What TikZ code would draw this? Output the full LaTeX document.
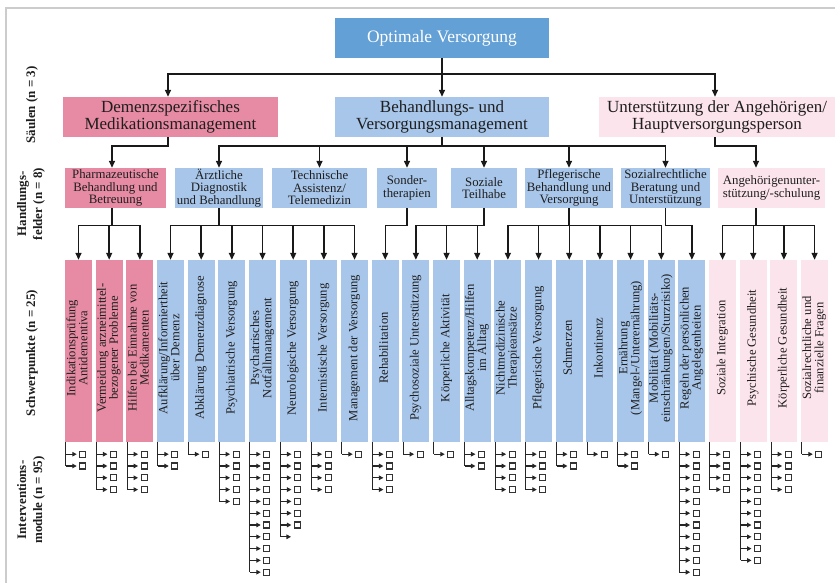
\documentclass[tikz,border=0pt]{standalone}
\usepackage{fontspec}
\setmainfont{Liberation Serif}
\usepackage{graphicx}
\usetikzlibrary{arrows.meta}
\definecolor{topblue}{RGB}{98,160,214}
\definecolor{lblue}{RGB}{168,198,234}
\definecolor{dpink}{RGB}{231,139,164}
\definecolor{lpink}{RGB}{252,228,236}
\definecolor{framegrey}{RGB}{204,204,204}
\definecolor{txt}{RGB}{30,30,30}
\newcommand{\rtxt}[1]{\rotatebox{90}{\hspace{6pt}\begin{tabular}{@{}c@{}}#1\end{tabular}}}
\begin{document}
\begin{tikzpicture}[x=1pt,y=-1pt,
  basebox/.style={inner sep=0pt, align=center, text=txt},
  sbox/.style={basebox, minimum width=#1, minimum height=40pt, font=\fontsize{17}{16.5}\selectfont},
  hbox/.style={basebox, minimum width=#1, minimum height=40pt, font=\fontsize{12.8}{12.5}\selectfont},
  pbox/.style={basebox, minimum width=27pt, minimum height=182pt, font=\fontsize{12.6}{11}\selectfont},
  conn/.style={line width=1.4pt, draw=black!90},
  arr/.style={conn, -{Triangle[width=6pt,length=7pt]}},
  modline/.style={line width=1.2pt, draw=black!85},
  modarr/.style={modline, -{Triangle[width=4.5pt,length=4.5pt]}, shorten >=2.5pt},
  modbox/.style={draw=black!80, line width=1.1pt, fill=white, minimum size=6pt, inner sep=0pt},
  lab/.style={rotate=90, align=center, font=\bfseries\fontsize{13}{16}\selectfont, text=txt},
]
\useasboundingbox (0,0) rectangle (835,583);
\draw[framegrey, line width=2pt] (6,583) -- (6,8) -- (835,8);

% top
\node[basebox, fill=topblue, minimum width=214pt, minimum height=40pt, text=white,
      font=\fontsize{17.5}{17}\selectfont] (top) at (442,38) {Optimale Versorgung};

% Saeulen
\node[sbox=215pt, fill=dpink] (s1) at (170.5,117) {Demenzspezifisches\\Medikationsmanagement};
\node[sbox=214pt, fill=lblue] (s2) at (442,117) {Behandlungs- und\\Versorgungsmanagement};
\node[sbox=236pt, fill=lpink] (s3) at (717,117) {Unterstützung der Angehörigen/\\Hauptversorgungsperson};

% Handlungsfelder
\node[hbox=101pt, fill=dpink] (h1) at (115.5,188) {Pharmazeutische\\Behandlung und\\Betreuung};
\node[hbox=88pt, fill=lblue] (h2) at (219,188) {Ärztliche\\Diagnostik\\und Behandlung};
\node[hbox=95pt, fill=lblue] (h3) at (319.5,188) {Technische\\Assistenz/\\Telemedizin};
\node[hbox=60pt, fill=lblue] (h4) at (407,188) {Sonder-\\therapien};
\node[hbox=66pt, fill=lblue] (h5) at (484,188) {Soziale\\Teilhabe};
\node[hbox=88pt, fill=lblue] (h6) at (569,188) {Pflegerische\\Behandlung und\\Versorgung};
\node[hbox=89pt, fill=lblue] (h7) at (665.5,188) {Sozialrechtliche\\Beratung und\\Unterstützung};
\node[hbox=107pt, fill=lpink] (h8) at (771.5,188) {Angehörigenunter-\\stützung/-schulung};

% Schwerpunkte
\node[pbox, fill=dpink] (p1) at (78.5,351) {\rtxt{Indikationsprüfung\\Antidementiva}};
\node[pbox, fill=dpink] (p2) at (109.17,351) {\rtxt{Vermeidung arzneimittel-\\bezogener Probleme}};
\node[pbox, fill=dpink] (p3) at (139.84,351) {\rtxt{Hilfen bei Einnahme von\\Medikamenten}};
\node[pbox, fill=lblue] (p4) at (170.51,351) {\rtxt{Aufklärung/Informiertheit\\über Demenz}};
\node[pbox, fill=lblue] (p5) at (201.18,351) {\rtxt{Abklärung Demenzdiagnose}};
\node[pbox, fill=lblue] (p6) at (231.85,351) {\rtxt{Psychiatrische Versorgung}};
\node[pbox, fill=lblue] (p7) at (262.52,351) {\rtxt{Psychatrisches\\Notfallmanagement}};
\node[pbox, fill=lblue] (p8) at (293.19,351) {\rtxt{Neurologische Versorgung}};
\node[pbox, fill=lblue] (p9) at (323.86,351) {\rtxt{Internistische Versorgung}};
\node[pbox, fill=lblue] (p10) at (354.53,351) {\rtxt{Management der Versorgung}};
\node[pbox, fill=lblue] (p11) at (385.2,351) {\rtxt{Rehabilitation}};
\node[pbox, fill=lblue] (p12) at (415.87,351) {\rtxt{Psychosoziale Unterstützung}};
\node[pbox, fill=lblue] (p13) at (446.54,351) {\rtxt{Körperliche Aktivität}};
\node[pbox, fill=lblue] (p14) at (477.21,351) {\rtxt{Alltagskompetenz/Hilfen\\im Alltag}};
\node[pbox, fill=lblue] (p15) at (507.88,351) {\rtxt{Nichtmedizinische\\Therapieansätze}};
\node[pbox, fill=lblue] (p16) at (538.55,351) {\rtxt{Pflegerische Versorgung}};
\node[pbox, fill=lblue] (p17) at (569.22,351) {\rtxt{Schmerzen}};
\node[pbox, fill=lblue] (p18) at (599.89,351) {\rtxt{Inkontinenz}};
\node[pbox, fill=lblue] (p19) at (630.56,351) {\rtxt{Ernährung\\(Mangel-/Unterernährung)}};
\node[pbox, fill=lblue] (p20) at (661.23,351) {\rtxt{Mobilität (Mobilitäts-\\einschränkungen/Sturzrisiko)}};
\node[pbox, fill=lblue] (p21) at (691.9,351) {\rtxt{Regeln der persönlichen\\Angelegenheiten}};
\node[pbox, fill=lpink] (p22) at (722.57,351) {\rtxt{Soziale Integration}};
\node[pbox, fill=lpink] (p23) at (753.24,351) {\rtxt{Psychische Gesundheit}};
\node[pbox, fill=lpink] (p24) at (783.91,351) {\rtxt{Körperliche Gesundheit}};
\node[pbox, fill=lpink] (p25) at (814.58,351) {\rtxt{Sozialrechtliche und\\finanzielle Fragen}};

% left labels
\node[lab] (l1) at (32,105) {Säulen (n = 3)};
\node[lab] (l2) at (31,204) {Handlungs-\\felder (n = 8)};
\node[lab] (l3) at (32,353) {Schwerpunkte (n = 25)};
\node[lab] (l4) at (31,500) {Interventions-\\module (n = 95)};

% top -> Saeulen
\draw[arr] (top.south) -- ++(0,16) -| ([xshift=-2.5pt]s1.north);
\draw[arr] (top.south) -- (s2.north);
\draw[arr] (top.south) -- ++(0,16) -| ([xshift=-2pt]s3.north);

% Saeulen -> Handlungsfelder
\draw[arr] (s1.south) ++(-2.5,0) -- ++(0,9) -| ([xshift=-3.5pt]h1.north);
\foreach \h in {h2,h3,h4,h5,h6,h7}
  \draw[arr] (s2.south) -- ++(0,9) -| (\h.north);
\draw[arr] (s3.south) ++(-2,0) -- ++(0,9) -| ([xshift=-15.5pt]h8.north);

% Handlungsfelder -> Schwerpunkte
\foreach \p in {p1,p2,p3}
  \draw[arr] (h1.south) ++(-3.5,0) -- ++(0,17) -| (\p.north);
\foreach \p in {p4,p5,p6,p7,p8,p9,p10}
  \draw[arr] (h2.south) -- ++(0,17) -| (\p.north);
\draw[arr] (h4.south) -- ++(0,17) -| (p11.north);
\foreach \p in {p12,p13,p14}
  \draw[arr] (h5.south) -- ++(0,17) -| (\p.north);
\foreach \p in {p15,p16,p17,p18,p19,p20}
  \draw[arr] (h6.south) -- ++(0,17) -| (\p.north);
\draw[arr] (h7.south) -- ++(0,17) -| (p21.north);
\foreach \p in {p22,p23,p24,p25}
  \draw[arr] (h8.south) ++(-15.5,0) -- ++(0,17) -| (\p.north);

% Interventionsmodule
\foreach \n [count=\i] in {2,4,4,2,1,5,11,7,4,1,4,1,1,2,4,4,2,1,2,1,11,4,10,4,1} {
  \draw[modline] (p\i.south west) ++(1,0) -- ++(0,{12+(\n-1)*11.8});
  \foreach \k in {1,...,\n} {
    \path (p\i.south west) ++(18,{12+(\k-1)*11.8}) node[modbox] (m\i-\k) {};
    \draw[modarr] (p\i.south west) ++(1,{12+(\k-1)*11.8}) -- (m\i-\k.west);
  }
}
\path (p8.south west) ++(14,{12+7*11.8}) coordinate (m8x);
\draw[modarr] (p8.south west) ++(1,{12+6*11.8}) |- (m8x);
\end{tikzpicture}
\end{document}
